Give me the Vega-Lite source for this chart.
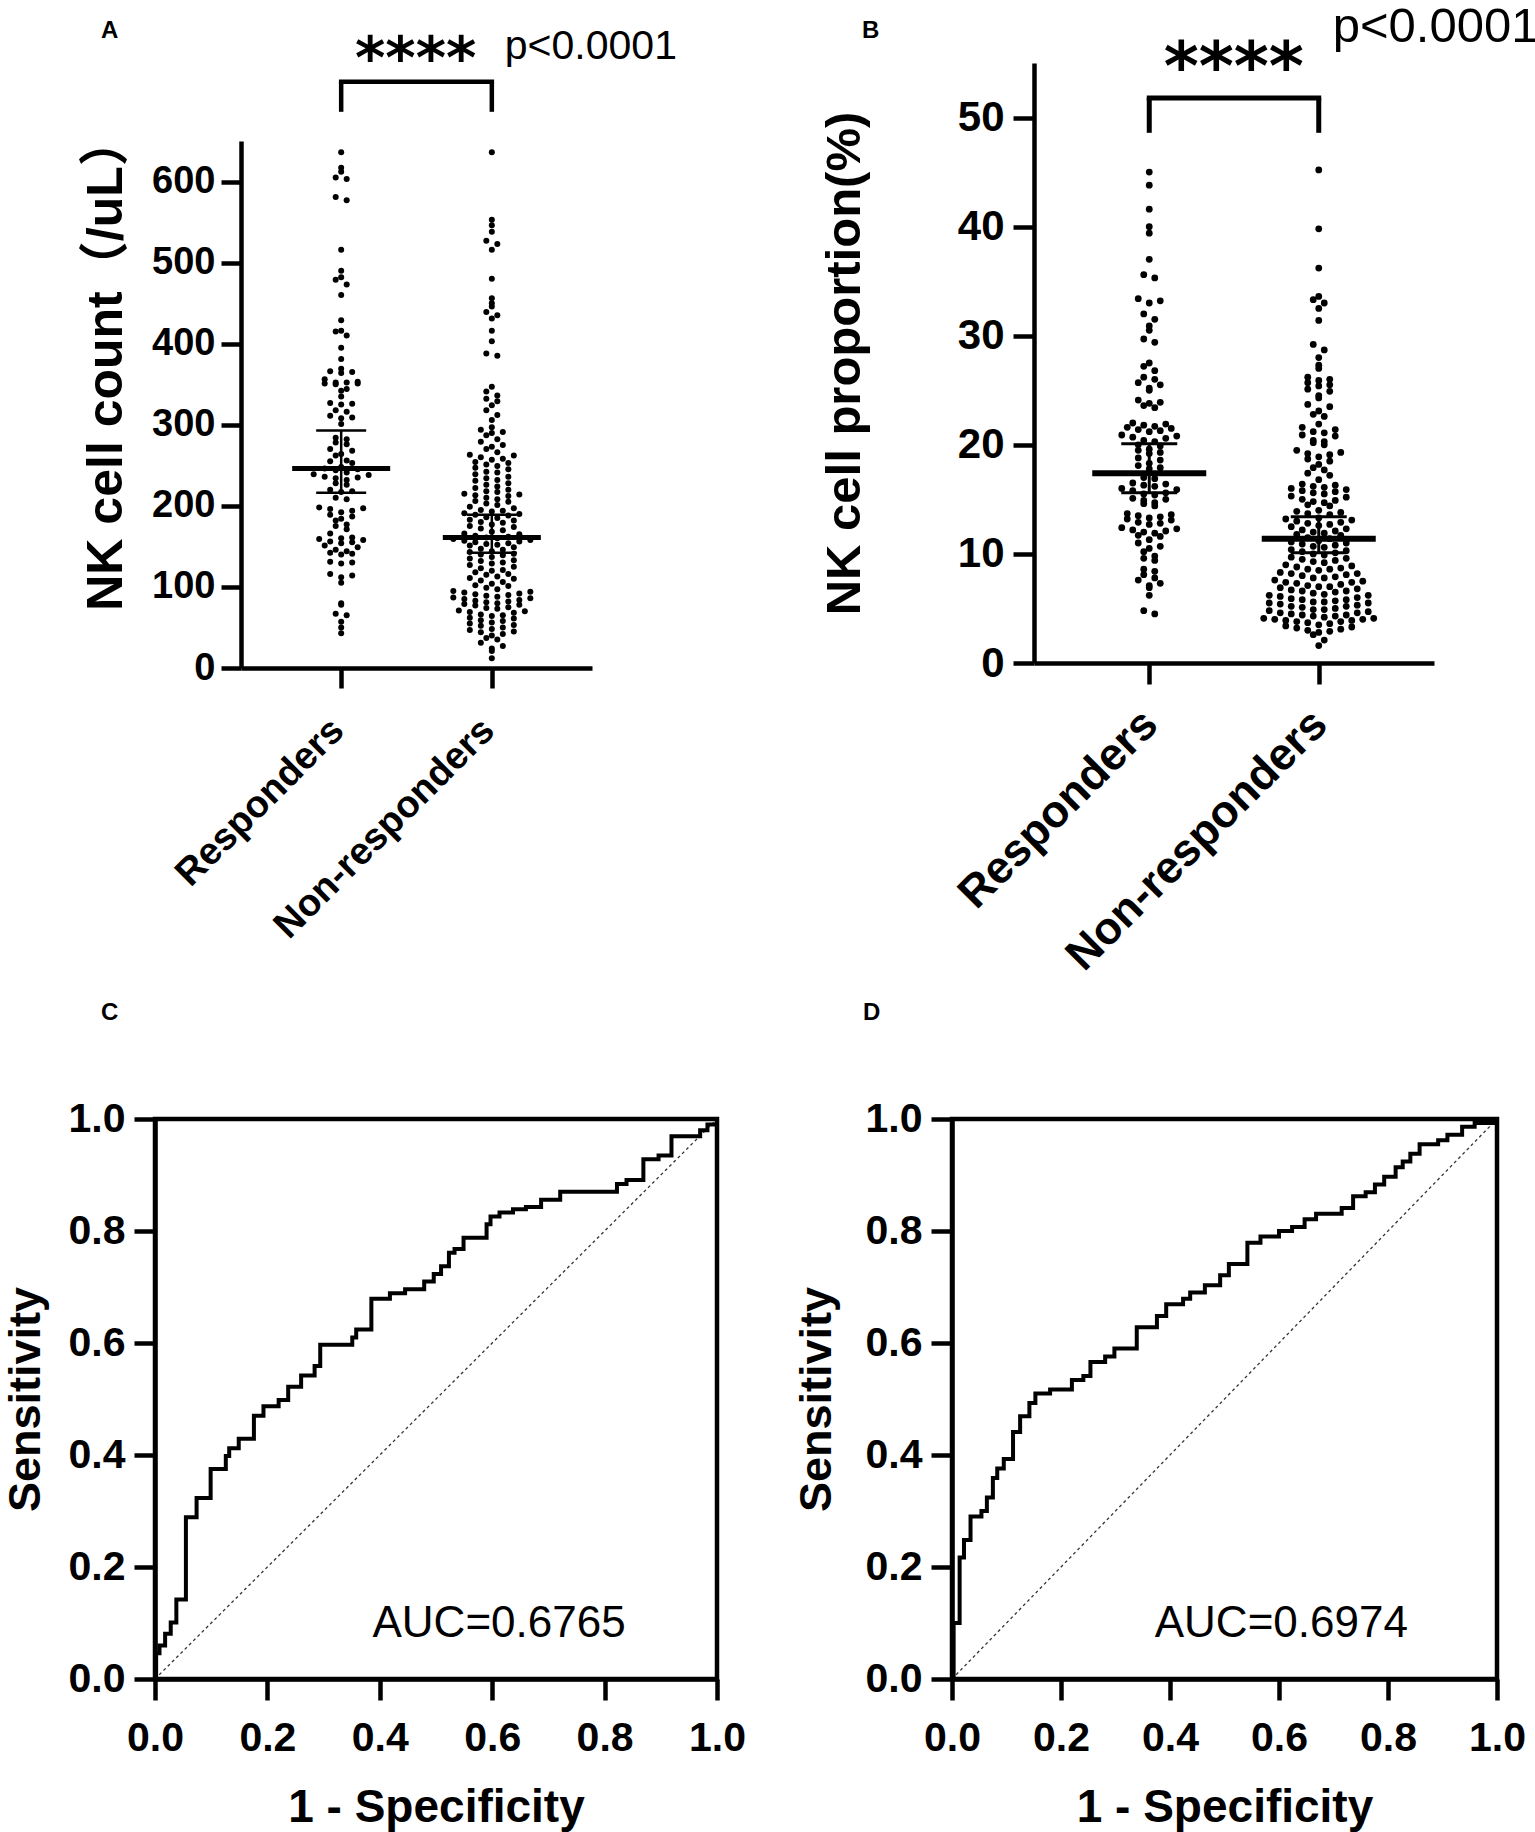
{
  "$schema": "https://vega.github.io/schema/vega-lite/v6.json",
  "background": "white",
  "padding": {"left": 0, "top": 3, "right": 0, "bottom": 0},
  "config": {
    "font": "Liberation Sans",
    "view": {"stroke": null},
    "axis": {
      "domainColor": "black", "tickColor": "black", "labelColor": "black", "titleColor": "black",
      "labelFont": "Liberation Sans", "titleFont": "Liberation Sans, Noto Sans CJK SC",
      "labelFontWeight": "bold", "titleFontWeight": "bold", "grid": false,
      "domainWidth": 4.5, "tickWidth": 4.5, "labelLimit": 1000, "titleLimit": 1000,
      "labelFlush": false, "labelOverlap": false
    },
    "title": {"anchor": "start", "frame": "group", "fontSize": 24, "fontWeight": "bold", "font": "Liberation Sans", "color": "black", "baseline": "alphabetic"},
    "concat": {"spacing": 0}
  },
  "datasets": {
    "countA": [
      {"group":"Responders","value":636},{"group":"Responders","value":617},{"group":"Responders","value":612},{"group":"Responders","value":605},{"group":"Responders","value":603},{"group":"Responders","value":581},{"group":"Responders","value":577},{"group":"Responders","value":516},{"group":"Responders","value":490},{"group":"Responders","value":482},
      {"group":"Responders","value":479},{"group":"Responders","value":473},{"group":"Responders","value":460},{"group":"Responders","value":429},{"group":"Responders","value":416},{"group":"Responders","value":415},{"group":"Responders","value":410},{"group":"Responders","value":395},{"group":"Responders","value":381},{"group":"Responders","value":369},
      {"group":"Responders","value":366},{"group":"Responders","value":365},{"group":"Responders","value":364},{"group":"Responders","value":356},{"group":"Responders","value":353},{"group":"Responders","value":352},{"group":"Responders","value":352},{"group":"Responders","value":351},{"group":"Responders","value":351},{"group":"Responders","value":350},
      {"group":"Responders","value":344},{"group":"Responders","value":342},{"group":"Responders","value":335},{"group":"Responders","value":327},{"group":"Responders","value":326},{"group":"Responders","value":325},{"group":"Responders","value":318},{"group":"Responders","value":316},{"group":"Responders","value":311},{"group":"Responders","value":309},
      {"group":"Responders","value":308},{"group":"Responders","value":301},{"group":"Responders","value":284},{"group":"Responders","value":282},{"group":"Responders","value":278},{"group":"Responders","value":276},{"group":"Responders","value":270},{"group":"Responders","value":268},{"group":"Responders","value":264},{"group":"Responders","value":262},
      {"group":"Responders","value":256},{"group":"Responders","value":255},{"group":"Responders","value":253},{"group":"Responders","value":248},{"group":"Responders","value":246},{"group":"Responders","value":245},{"group":"Responders","value":244},{"group":"Responders","value":241},{"group":"Responders","value":239},{"group":"Responders","value":238},
      {"group":"Responders","value":236},{"group":"Responders","value":235},{"group":"Responders","value":234},{"group":"Responders","value":232},{"group":"Responders","value":228},{"group":"Responders","value":226},{"group":"Responders","value":220},{"group":"Responders","value":218},{"group":"Responders","value":217},{"group":"Responders","value":210},
      {"group":"Responders","value":208},{"group":"Responders","value":198},{"group":"Responders","value":197},{"group":"Responders","value":196},{"group":"Responders","value":194},{"group":"Responders","value":192},{"group":"Responders","value":189},{"group":"Responders","value":187},{"group":"Responders","value":184},{"group":"Responders","value":182},
      {"group":"Responders","value":177},{"group":"Responders","value":175},{"group":"Responders","value":171},{"group":"Responders","value":166},{"group":"Responders","value":161},{"group":"Responders","value":160},{"group":"Responders","value":159},{"group":"Responders","value":158},{"group":"Responders","value":156},{"group":"Responders","value":155},
      {"group":"Responders","value":154},{"group":"Responders","value":151},{"group":"Responders","value":149},{"group":"Responders","value":146},{"group":"Responders","value":144},{"group":"Responders","value":142},{"group":"Responders","value":141},{"group":"Responders","value":140},{"group":"Responders","value":131},{"group":"Responders","value":130},
      {"group":"Responders","value":129},{"group":"Responders","value":116},{"group":"Responders","value":114},{"group":"Responders","value":112},{"group":"Responders","value":105},{"group":"Responders","value":80},{"group":"Responders","value":78},{"group":"Responders","value":67},{"group":"Responders","value":65},{"group":"Responders","value":57},
      {"group":"Responders","value":50},{"group":"Responders","value":43},
      {"group":"Non-responders","value":636},{"group":"Non-responders","value":553},{"group":"Non-responders","value":546},{"group":"Non-responders","value":538},{"group":"Non-responders","value":527},{"group":"Non-responders","value":523},{"group":"Non-responders","value":516},{"group":"Non-responders","value":480},{"group":"Non-responders","value":456},{"group":"Non-responders","value":450},
      {"group":"Non-responders","value":446},{"group":"Non-responders","value":439},{"group":"Non-responders","value":435},{"group":"Non-responders","value":431},{"group":"Non-responders","value":416},{"group":"Non-responders","value":403},{"group":"Non-responders","value":388},{"group":"Non-responders","value":385},
      {"group":"Non-responders","value":347},{"group":"Non-responders","value":341},{"group":"Non-responders","value":336},{"group":"Non-responders","value":332},{"group":"Non-responders","value":329},{"group":"Non-responders","value":324},{"group":"Non-responders","value":318},{"group":"Non-responders","value":312},{"group":"Non-responders","value":306},
      {"group":"Non-responders","value":297},{"group":"Non-responders","value":294},{"group":"Non-responders","value":291},{"group":"Non-responders","value":290},{"group":"Non-responders","value":287},{"group":"Non-responders","value":282},{"group":"Non-responders","value":279},{"group":"Non-responders","value":275},{"group":"Non-responders","value":273},{"group":"Non-responders","value":270},
      {"group":"Non-responders","value":266},{"group":"Non-responders","value":263},{"group":"Non-responders","value":262},{"group":"Non-responders","value":260},{"group":"Non-responders","value":258},{"group":"Non-responders","value":257},{"group":"Non-responders","value":254},{"group":"Non-responders","value":253},{"group":"Non-responders","value":251},{"group":"Non-responders","value":249},
      {"group":"Non-responders","value":247},{"group":"Non-responders","value":245},{"group":"Non-responders","value":242},{"group":"Non-responders","value":241},{"group":"Non-responders","value":239},{"group":"Non-responders","value":236},{"group":"Non-responders","value":234},{"group":"Non-responders","value":232},{"group":"Non-responders","value":231},{"group":"Non-responders","value":228},
      {"group":"Non-responders","value":226},{"group":"Non-responders","value":224},{"group":"Non-responders","value":222},{"group":"Non-responders","value":220},{"group":"Non-responders","value":218},{"group":"Non-responders","value":217},{"group":"Non-responders","value":215},{"group":"Non-responders","value":214},{"group":"Non-responders","value":213},{"group":"Non-responders","value":212},
      {"group":"Non-responders","value":210},{"group":"Non-responders","value":208},{"group":"Non-responders","value":206},{"group":"Non-responders","value":205},{"group":"Non-responders","value":203},{"group":"Non-responders","value":201},
      {"group":"Non-responders","value":199},{"group":"Non-responders","value":197},{"group":"Non-responders","value":195},{"group":"Non-responders","value":194},{"group":"Non-responders","value":193},{"group":"Non-responders","value":191},{"group":"Non-responders","value":190},{"group":"Non-responders","value":189},{"group":"Non-responders","value":188},{"group":"Non-responders","value":186},
      {"group":"Non-responders","value":185},{"group":"Non-responders","value":183},{"group":"Non-responders","value":182},{"group":"Non-responders","value":180},{"group":"Non-responders","value":179},{"group":"Non-responders","value":177},{"group":"Non-responders","value":175},{"group":"Non-responders","value":174},{"group":"Non-responders","value":172},{"group":"Non-responders","value":170},
      {"group":"Non-responders","value":168},{"group":"Non-responders","value":166},{"group":"Non-responders","value":165},{"group":"Non-responders","value":163},{"group":"Non-responders","value":162},{"group":"Non-responders","value":161},{"group":"Non-responders","value":160},{"group":"Non-responders","value":159},{"group":"Non-responders","value":158},{"group":"Non-responders","value":157},
      {"group":"Non-responders","value":156},{"group":"Non-responders","value":155},{"group":"Non-responders","value":154},{"group":"Non-responders","value":153},{"group":"Non-responders","value":152},{"group":"Non-responders","value":151},
      {"group":"Non-responders","value":149},{"group":"Non-responders","value":147},{"group":"Non-responders","value":146},{"group":"Non-responders","value":144},{"group":"Non-responders","value":143},{"group":"Non-responders","value":141},{"group":"Non-responders","value":140},{"group":"Non-responders","value":139},{"group":"Non-responders","value":137},{"group":"Non-responders","value":135},
      {"group":"Non-responders","value":133},{"group":"Non-responders","value":132},{"group":"Non-responders","value":130},{"group":"Non-responders","value":129},{"group":"Non-responders","value":127},{"group":"Non-responders","value":125},{"group":"Non-responders","value":123},{"group":"Non-responders","value":121},{"group":"Non-responders","value":120},{"group":"Non-responders","value":118},
      {"group":"Non-responders","value":116},{"group":"Non-responders","value":115},{"group":"Non-responders","value":113},{"group":"Non-responders","value":111},{"group":"Non-responders","value":110},{"group":"Non-responders","value":108},{"group":"Non-responders","value":106},{"group":"Non-responders","value":104},{"group":"Non-responders","value":102},{"group":"Non-responders","value":101},
      {"group":"Non-responders","value":99},{"group":"Non-responders","value":97},{"group":"Non-responders","value":95},{"group":"Non-responders","value":94},{"group":"Non-responders","value":93},{"group":"Non-responders","value":92},{"group":"Non-responders","value":91},{"group":"Non-responders","value":90},{"group":"Non-responders","value":89},{"group":"Non-responders","value":88},
      {"group":"Non-responders","value":87},{"group":"Non-responders","value":86},{"group":"Non-responders","value":85},{"group":"Non-responders","value":84},{"group":"Non-responders","value":83},{"group":"Non-responders","value":82},{"group":"Non-responders","value":81},{"group":"Non-responders","value":80},{"group":"Non-responders","value":79},{"group":"Non-responders","value":78},
      {"group":"Non-responders","value":77},{"group":"Non-responders","value":75},{"group":"Non-responders","value":74},{"group":"Non-responders","value":73},{"group":"Non-responders","value":71},{"group":"Non-responders","value":70},{"group":"Non-responders","value":69},{"group":"Non-responders","value":68},{"group":"Non-responders","value":66},{"group":"Non-responders","value":65},
      {"group":"Non-responders","value":64},{"group":"Non-responders","value":62},{"group":"Non-responders","value":61},{"group":"Non-responders","value":59},{"group":"Non-responders","value":58},{"group":"Non-responders","value":56},{"group":"Non-responders","value":55},{"group":"Non-responders","value":53},{"group":"Non-responders","value":52},{"group":"Non-responders","value":50},
      {"group":"Non-responders","value":48},{"group":"Non-responders","value":47},{"group":"Non-responders","value":45},{"group":"Non-responders","value":44},{"group":"Non-responders","value":42},{"group":"Non-responders","value":40},{"group":"Non-responders","value":37},{"group":"Non-responders","value":35},{"group":"Non-responders","value":31},{"group":"Non-responders","value":27},
      {"group":"Non-responders","value":24},{"group":"Non-responders","value":21},{"group":"Non-responders","value":12}
    ],
    "propB": [
      {"group":"Responders","value":45.0},{"group":"Responders","value":43.8},{"group":"Responders","value":41.6},{"group":"Responders","value":40.0},{"group":"Responders","value":39.4},{"group":"Responders","value":37.0},{"group":"Responders","value":35.6},{"group":"Responders","value":35.3},{"group":"Responders","value":33.4},{"group":"Responders","value":33.2},
      {"group":"Responders","value":33.0},{"group":"Responders","value":32.0},{"group":"Responders","value":31.5},{"group":"Responders","value":30.9},{"group":"Responders","value":30.5},{"group":"Responders","value":29.7},{"group":"Responders","value":29.4},{"group":"Responders","value":27.5},{"group":"Responders","value":27.2},{"group":"Responders","value":26.8},
      {"group":"Responders","value":26.2},{"group":"Responders","value":26.0},{"group":"Responders","value":25.7},{"group":"Responders","value":25.5},{"group":"Responders","value":25.2},{"group":"Responders","value":25.0},{"group":"Responders","value":24.1},{"group":"Responders","value":23.9},{"group":"Responders","value":23.8},{"group":"Responders","value":23.6},
      {"group":"Responders","value":23.4},{"group":"Responders","value":22.0},{"group":"Responders","value":21.9},{"group":"Responders","value":21.8},{"group":"Responders","value":21.7},{"group":"Responders","value":21.6},{"group":"Responders","value":21.5},{"group":"Responders","value":21.4},{"group":"Responders","value":21.3},{"group":"Responders","value":21.2},
      {"group":"Responders","value":20.9},{"group":"Responders","value":20.8},{"group":"Responders","value":20.7},{"group":"Responders","value":20.6},{"group":"Responders","value":20.4},{"group":"Responders","value":20.3},{"group":"Responders","value":20.0},{"group":"Responders","value":19.9},{"group":"Responders","value":19.6},{"group":"Responders","value":19.5},
      {"group":"Responders","value":19.3},{"group":"Responders","value":19.2},{"group":"Responders","value":18.8},{"group":"Responders","value":18.6},{"group":"Responders","value":18.3},{"group":"Responders","value":18.1},{"group":"Responders","value":17.9},{"group":"Responders","value":17.8},{"group":"Responders","value":17.0},{"group":"Responders","value":16.9},
      {"group":"Responders","value":16.5},{"group":"Responders","value":16.4},{"group":"Responders","value":16.3},{"group":"Responders","value":16.2},{"group":"Responders","value":16.0},{"group":"Responders","value":15.9},{"group":"Responders","value":15.8},{"group":"Responders","value":15.6},{"group":"Responders","value":15.5},{"group":"Responders","value":15.4},
      {"group":"Responders","value":15.1},{"group":"Responders","value":15.0},{"group":"Responders","value":14.9},{"group":"Responders","value":14.7},{"group":"Responders","value":14.6},{"group":"Responders","value":14.4},{"group":"Responders","value":13.7},{"group":"Responders","value":13.6},{"group":"Responders","value":13.5},{"group":"Responders","value":13.4},
      {"group":"Responders","value":13.3},{"group":"Responders","value":13.2},{"group":"Responders","value":13.1},{"group":"Responders","value":12.9},{"group":"Responders","value":12.8},{"group":"Responders","value":12.7},{"group":"Responders","value":12.4},{"group":"Responders","value":12.3},{"group":"Responders","value":12.2},{"group":"Responders","value":12.1},
      {"group":"Responders","value":12.0},{"group":"Responders","value":11.9},{"group":"Responders","value":11.7},{"group":"Responders","value":11.6},{"group":"Responders","value":11.3},{"group":"Responders","value":11.0},{"group":"Responders","value":10.7},{"group":"Responders","value":10.5},{"group":"Responders","value":10.2},{"group":"Responders","value":9.8},
      {"group":"Responders","value":9.6},{"group":"Responders","value":9.4},{"group":"Responders","value":8.6},{"group":"Responders","value":8.4},{"group":"Responders","value":8.1},{"group":"Responders","value":7.8},{"group":"Responders","value":7.6},{"group":"Responders","value":7.3},{"group":"Responders","value":7.1},{"group":"Responders","value":6.9},
      {"group":"Responders","value":6.2},{"group":"Responders","value":4.8},{"group":"Responders","value":4.5},
      {"group":"Non-responders","value":45.2},{"group":"Non-responders","value":39.8},{"group":"Non-responders","value":36.2},{"group":"Non-responders","value":33.6},{"group":"Non-responders","value":33.3},{"group":"Non-responders","value":33.0},{"group":"Non-responders","value":32.5},{"group":"Non-responders","value":31.4},{"group":"Non-responders","value":29.2},{"group":"Non-responders","value":28.7},
      {"group":"Non-responders","value":28.0},{"group":"Non-responders","value":27.3},{"group":"Non-responders","value":27.0},{"group":"Non-responders","value":26.2},{"group":"Non-responders","value":26.0},{"group":"Non-responders","value":25.9},{"group":"Non-responders","value":25.7},{"group":"Non-responders","value":25.5},{"group":"Non-responders","value":25.4},{"group":"Non-responders","value":25.1},
      {"group":"Non-responders","value":24.9},{"group":"Non-responders","value":24.5},{"group":"Non-responders","value":24.3},{"group":"Non-responders","value":23.7},{"group":"Non-responders","value":23.5},{"group":"Non-responders","value":23.1},{"group":"Non-responders","value":22.8},{"group":"Non-responders","value":22.6},{"group":"Non-responders","value":21.9},{"group":"Non-responders","value":21.6},
      {"group":"Non-responders","value":21.4},{"group":"Non-responders","value":21.2},{"group":"Non-responders","value":21.1},{"group":"Non-responders","value":20.9},{"group":"Non-responders","value":20.8},{"group":"Non-responders","value":20.4},{"group":"Non-responders","value":20.3},{"group":"Non-responders","value":20.2},{"group":"Non-responders","value":20.0},{"group":"Non-responders","value":19.5},
      {"group":"Non-responders","value":19.3},{"group":"Non-responders","value":19.2},{"group":"Non-responders","value":19.1},{"group":"Non-responders","value":18.9},{"group":"Non-responders","value":18.7},{"group":"Non-responders","value":18.5},{"group":"Non-responders","value":18.2},{"group":"Non-responders","value":17.9},{"group":"Non-responders","value":17.7},{"group":"Non-responders","value":17.4},
      {"group":"Non-responders","value":17.2},{"group":"Non-responders","value":16.8},{"group":"Non-responders","value":16.4},{"group":"Non-responders","value":16.3},{"group":"Non-responders","value":16.2},{"group":"Non-responders","value":16.1},{"group":"Non-responders","value":16.0},{"group":"Non-responders","value":15.9},{"group":"Non-responders","value":15.8},{"group":"Non-responders","value":15.7},
      {"group":"Non-responders","value":15.6},{"group":"Non-responders","value":15.5},{"group":"Non-responders","value":15.3},{"group":"Non-responders","value":15.2},{"group":"Non-responders","value":15.0},{"group":"Non-responders","value":14.9},{"group":"Non-responders","value":14.8},{"group":"Non-responders","value":14.7},{"group":"Non-responders","value":14.5},{"group":"Non-responders","value":14.4},
      {"group":"Non-responders","value":14.0},{"group":"Non-responders","value":13.9},{"group":"Non-responders","value":13.8},{"group":"Non-responders","value":13.7},{"group":"Non-responders","value":13.6},{"group":"Non-responders","value":13.3},{"group":"Non-responders","value":13.2},{"group":"Non-responders","value":13.1},{"group":"Non-responders","value":13.0},{"group":"Non-responders","value":12.9},
      {"group":"Non-responders","value":12.8},{"group":"Non-responders","value":12.7},{"group":"Non-responders","value":12.6},{"group":"Non-responders","value":12.5},{"group":"Non-responders","value":12.3},{"group":"Non-responders","value":12.2},{"group":"Non-responders","value":12.1},{"group":"Non-responders","value":12.0},{"group":"Non-responders","value":11.9},{"group":"Non-responders","value":11.8},
      {"group":"Non-responders","value":11.7},{"group":"Non-responders","value":11.5},{"group":"Non-responders","value":11.4},{"group":"Non-responders","value":11.2},{"group":"Non-responders","value":11.1},{"group":"Non-responders","value":11.0},{"group":"Non-responders","value":10.9},{"group":"Non-responders","value":10.8},{"group":"Non-responders","value":10.7},{"group":"Non-responders","value":10.6},
      {"group":"Non-responders","value":10.4},{"group":"Non-responders","value":10.3},{"group":"Non-responders","value":10.2},{"group":"Non-responders","value":10.1},{"group":"Non-responders","value":10.0},{"group":"Non-responders","value":9.9},{"group":"Non-responders","value":9.7},{"group":"Non-responders","value":9.6},{"group":"Non-responders","value":9.5},{"group":"Non-responders","value":9.4},
      {"group":"Non-responders","value":9.3},{"group":"Non-responders","value":9.2},{"group":"Non-responders","value":9.0},{"group":"Non-responders","value":8.9},{"group":"Non-responders","value":8.8},{"group":"Non-responders","value":8.7},{"group":"Non-responders","value":8.6},{"group":"Non-responders","value":8.6},{"group":"Non-responders","value":8.5},{"group":"Non-responders","value":8.3},
      {"group":"Non-responders","value":8.2},{"group":"Non-responders","value":8.2},{"group":"Non-responders","value":8.1},{"group":"Non-responders","value":8.0},{"group":"Non-responders","value":7.9},{"group":"Non-responders","value":7.8},{"group":"Non-responders","value":7.8},{"group":"Non-responders","value":7.6},{"group":"Non-responders","value":7.5},{"group":"Non-responders","value":7.4},
      {"group":"Non-responders","value":7.4},{"group":"Non-responders","value":7.3},{"group":"Non-responders","value":7.2},{"group":"Non-responders","value":7.1},{"group":"Non-responders","value":7.0},{"group":"Non-responders","value":7.0},{"group":"Non-responders","value":6.9},{"group":"Non-responders","value":6.8},{"group":"Non-responders","value":6.7},{"group":"Non-responders","value":6.6},
      {"group":"Non-responders","value":6.6},{"group":"Non-responders","value":6.5},{"group":"Non-responders","value":6.4},{"group":"Non-responders","value":6.3},{"group":"Non-responders","value":6.2},{"group":"Non-responders","value":6.2},{"group":"Non-responders","value":6.1},{"group":"Non-responders","value":6.0},{"group":"Non-responders","value":5.9},{"group":"Non-responders","value":5.8},
      {"group":"Non-responders","value":5.8},{"group":"Non-responders","value":5.7},{"group":"Non-responders","value":5.6},{"group":"Non-responders","value":5.6},{"group":"Non-responders","value":5.5},{"group":"Non-responders","value":5.5},{"group":"Non-responders","value":5.4},{"group":"Non-responders","value":5.3},{"group":"Non-responders","value":5.2},{"group":"Non-responders","value":5.2},
      {"group":"Non-responders","value":5.1},{"group":"Non-responders","value":5.0},{"group":"Non-responders","value":4.9},{"group":"Non-responders","value":4.9},{"group":"Non-responders","value":4.8},{"group":"Non-responders","value":4.7},{"group":"Non-responders","value":4.6},{"group":"Non-responders","value":4.6},{"group":"Non-responders","value":4.5},{"group":"Non-responders","value":4.4},
      {"group":"Non-responders","value":4.4},{"group":"Non-responders","value":4.3},{"group":"Non-responders","value":4.3},{"group":"Non-responders","value":4.2},{"group":"Non-responders","value":4.1},{"group":"Non-responders","value":4.1},{"group":"Non-responders","value":4.0},{"group":"Non-responders","value":4.0},{"group":"Non-responders","value":3.9},{"group":"Non-responders","value":3.9},
      {"group":"Non-responders","value":3.8},{"group":"Non-responders","value":3.8},{"group":"Non-responders","value":3.7},{"group":"Non-responders","value":3.6},{"group":"Non-responders","value":3.5},{"group":"Non-responders","value":3.4},{"group":"Non-responders","value":3.3},{"group":"Non-responders","value":3.2},{"group":"Non-responders","value":3.1},{"group":"Non-responders","value":3.0},
      {"group":"Non-responders","value":2.9},{"group":"Non-responders","value":2.8},{"group":"Non-responders","value":2.6},{"group":"Non-responders","value":2.1},{"group":"Non-responders","value":1.6}
    ],
    "rocC": [
      {"fpr":0,"tpr":0},{"fpr":0.002,"tpr":0.046},{"fpr":0.008,"tpr":0.060},{"fpr":0.018,"tpr":0.081},{"fpr":0.028,"tpr":0.101},{"fpr":0.038,"tpr":0.142},{"fpr":0.055,"tpr":0.289},{"fpr":0.074,"tpr":0.323},{"fpr":0.099,"tpr":0.375},{"fpr":0.126,"tpr":0.398},
      {"fpr":0.132,"tpr":0.412},{"fpr":0.149,"tpr":0.429},{"fpr":0.176,"tpr":0.470},{"fpr":0.193,"tpr":0.487},{"fpr":0.220,"tpr":0.498},{"fpr":0.237,"tpr":0.522},{"fpr":0.260,"tpr":0.542},{"fpr":0.284,"tpr":0.559},{"fpr":0.294,"tpr":0.597},{"fpr":0.351,"tpr":0.610},
      {"fpr":0.358,"tpr":0.624},{"fpr":0.385,"tpr":0.679},{"fpr":0.418,"tpr":0.689},{"fpr":0.445,"tpr":0.696},{"fpr":0.479,"tpr":0.710},{"fpr":0.496,"tpr":0.723},{"fpr":0.509,"tpr":0.737},{"fpr":0.523,"tpr":0.761},{"fpr":0.533,"tpr":0.768},{"fpr":0.549,"tpr":0.788},
      {"fpr":0.590,"tpr":0.812},{"fpr":0.597,"tpr":0.826},{"fpr":0.613,"tpr":0.833},{"fpr":0.637,"tpr":0.839},{"fpr":0.660,"tpr":0.843},{"fpr":0.687,"tpr":0.856},{"fpr":0.721,"tpr":0.870},{"fpr":0.822,"tpr":0.884},{"fpr":0.839,"tpr":0.891},{"fpr":0.869,"tpr":0.928},
      {"fpr":0.896,"tpr":0.935},{"fpr":0.919,"tpr":0.969},{"fpr":0.970,"tpr":0.980},{"fpr":0.983,"tpr":0.990},{"fpr":1.0,"tpr":1.0}
    ],
    "rocD": [
      {"fpr":0,"tpr":0},{"fpr":0.003,"tpr":0.100},{"fpr":0.014,"tpr":0.217},{"fpr":0.022,"tpr":0.248},{"fpr":0.034,"tpr":0.290},{"fpr":0.054,"tpr":0.300},{"fpr":0.064,"tpr":0.324},{"fpr":0.075,"tpr":0.359},{"fpr":0.083,"tpr":0.376},{"fpr":0.095,"tpr":0.393},
      {"fpr":0.112,"tpr":0.441},{"fpr":0.125,"tpr":0.469},{"fpr":0.142,"tpr":0.493},{"fpr":0.153,"tpr":0.510},{"fpr":0.180,"tpr":0.517},{"fpr":0.220,"tpr":0.534},{"fpr":0.241,"tpr":0.541},{"fpr":0.254,"tpr":0.566},{"fpr":0.281,"tpr":0.576},{"fpr":0.298,"tpr":0.590},
      {"fpr":0.339,"tpr":0.628},{"fpr":0.376,"tpr":0.648},{"fpr":0.393,"tpr":0.669},{"fpr":0.424,"tpr":0.679},{"fpr":0.437,"tpr":0.690},{"fpr":0.464,"tpr":0.703},{"fpr":0.492,"tpr":0.721},{"fpr":0.508,"tpr":0.741},{"fpr":0.542,"tpr":0.779},{"fpr":0.566,"tpr":0.790},
      {"fpr":0.600,"tpr":0.800},{"fpr":0.624,"tpr":0.807},{"fpr":0.647,"tpr":0.821},{"fpr":0.668,"tpr":0.831},{"fpr":0.715,"tpr":0.841},{"fpr":0.736,"tpr":0.862},{"fpr":0.759,"tpr":0.869},{"fpr":0.776,"tpr":0.883},{"fpr":0.793,"tpr":0.897},{"fpr":0.814,"tpr":0.914},
      {"fpr":0.827,"tpr":0.924},{"fpr":0.841,"tpr":0.938},{"fpr":0.858,"tpr":0.955},{"fpr":0.892,"tpr":0.962},{"fpr":0.909,"tpr":0.972},{"fpr":0.936,"tpr":0.986},{"fpr":0.959,"tpr":0.993},{"fpr":1.0,"tpr":1.0}
    ],
    "chance": [{"fpr":0,"tpr":0},{"fpr":1,"tpr":1}]
  },
  "bounds": "flush",
  "spacing": 1056,
  "vconcat": [
    {
      "bounds": "flush",
      "spacing": 0,
      "hconcat": [
        {"width": 86, "height": 1, "data": {"values": [{}]}, "mark": {"type": "point", "opacity": 0}, "encoding": {}},
        {
          "bounds": "flush",
          "spacing": 442,
          "hconcat": [
            {
              "width": 351,
              "height": 605,
              "title": {"text": "A", "dx": -140, "offset": -17},
              "layer": [
                {
                  "data": {"name": "countA"},
                  "transform": [
                    {"bin": {"step": 8, "extent": [0, 704]}, "field": "value", "as": "row"},
                    {"joinaggregate": [{"op": "count", "as": "n"}], "groupby": ["group", "row"]},
                    {"window": [{"op": "row_number", "as": "k"}], "groupby": ["group", "row"], "sort": [{"field": "value"}]},
                    {"calculate": "datum.n % 2 == 1 ? (datum.k % 2 == 0 ? 1 : -1) * floor(datum.k / 2) : (datum.k % 2 == 1 ? 1 : -1) * (floor((datum.k - 1) / 2) + 0.5)", "as": "slot"}
                  ],
                  "mark": {"type": "circle", "size": 36, "color": "black", "opacity": 1},
                  "encoding": {
                    "x": {
                      "field": "group", "type": "nominal",
                      "scale": {"type": "point", "domain": ["Responders", "Non-responders"], "padding": 0.665},
                      "axis": {"title": null, "labelAngle": -45, "labelAlign": "right", "labelBaseline": "top", "labelFontSize": 38, "labelPadding": 23, "labelOffset": -17, "tickSize": 20}
                    },
                    "xOffset": {"field": "slot", "type": "quantitative", "scale": {"domain": [-1, 1], "range": [-11, 11]}},
                    "y": {
                      "field": "value", "type": "quantitative",
                      "scale": {"domain": [0, 650], "range": [605, 78], "nice": false},
                      "axis": {"values": [0, 100, 200, 300, 400, 500, 600], "title": "NK cell count（/uL）", "titleFontSize": 50, "titleY": 300, "labelFontSize": 38, "tickSize": 20, "labelPadding": 6, "titlePadding": 20}
                    }
                  }
                },
                {
                  "data": {"values": [{"group": "Responders", "mid": 246, "lo": 216, "hi": 293}, {"group": "Non-responders", "mid": 161, "lo": 142, "hi": 189}]},
                  "layer": [
                    {"mark": {"type": "tick", "size": 98, "thickness": 5, "color": "black", "opacity": 1}, "encoding": {"x": {"field": "group", "type": "nominal"}, "y": {"field": "mid", "type": "quantitative"}}},
                    {"mark": {"type": "rule", "strokeWidth": 2.5, "color": "black"}, "encoding": {"x": {"field": "group", "type": "nominal"}, "y": {"field": "lo", "type": "quantitative"}, "y2": {"field": "hi"}}},
                    {
                      "transform": [{"fold": ["lo", "hi"], "as": ["end", "bar"]}],
                      "mark": {"type": "tick", "size": 50, "thickness": 2.5, "color": "black", "opacity": 1},
                      "encoding": {"x": {"field": "group", "type": "nominal"}, "y": {"field": "bar", "type": "quantitative"}}
                    }
                  ]
                },
                {
                  "data": {"values": [{"from": "Responders", "to": "Non-responders", "top": 723, "foot": 686}]},
                  "layer": [
                    {"mark": {"type": "rule", "strokeWidth": 4.5, "color": "black", "strokeCap": "square"}, "encoding": {"x": {"field": "from", "type": "nominal"}, "x2": {"field": "to"}, "y": {"field": "top", "type": "quantitative"}}},
                    {
                      "transform": [{"fold": ["from", "to"], "as": ["side", "cat"]}],
                      "mark": {"type": "rule", "strokeWidth": 4.5, "color": "black"},
                      "encoding": {"x": {"field": "cat", "type": "nominal"}, "y": {"field": "top", "type": "quantitative"}, "y2": {"field": "foot"}}
                    }
                  ]
                },
                {
                  "data": {"values": [{"cat": "Responders", "y": 728, "label": "****"}]},
                  "mark": {"type": "text", "font": "DejaVu Sans", "fontWeight": "bold", "fontSize": 58, "align": "center", "baseline": "alphabetic", "dx": 74.5, "color": "black"},
                  "encoding": {"x": {"field": "cat", "type": "nominal"}, "y": {"field": "y", "type": "quantitative"}, "text": {"field": "label"}}
                },
                {
                  "data": {"values": [{"cat": "Non-responders", "y": 751, "label": "p<0.0001"}]},
                  "mark": {"type": "text", "font": "Liberation Sans", "fontSize": 41, "align": "left", "baseline": "alphabetic", "dx": 13, "color": "black"},
                  "encoding": {"x": {"field": "cat", "type": "nominal"}, "y": {"field": "y", "type": "quantitative"}, "text": {"field": "label"}}
                }
              ]
            },
            {
              "width": 400,
              "height": 600,
              "title": {"text": "B", "dx": -172, "offset": -40},
              "layer": [
                {
                  "data": {"name": "propB"},
                  "transform": [
                    {"bin": {"step": 0.7, "extent": [0, 56]}, "field": "value", "as": "row"},
                    {"joinaggregate": [{"op": "count", "as": "n"}], "groupby": ["group", "row"]},
                    {"window": [{"op": "row_number", "as": "k"}], "groupby": ["group", "row"], "sort": [{"field": "value"}]},
                    {"calculate": "datum.n % 2 == 1 ? (datum.k % 2 == 0 ? 1 : -1) * floor(datum.k / 2) : (datum.k % 2 == 1 ? 1 : -1) * (floor((datum.k - 1) / 2) + 0.5)", "as": "slot"}
                  ],
                  "mark": {"type": "circle", "size": 46, "color": "black", "opacity": 1},
                  "encoding": {
                    "x": {
                      "field": "group", "type": "nominal",
                      "scale": {"type": "point", "domain": ["Responders", "Non-responders"], "padding": 0.68},
                      "axis": {"title": null, "labelAngle": -45, "labelAlign": "right", "labelBaseline": "top", "labelFontSize": 45, "labelPadding": 17, "labelOffset": -15, "tickSize": 21}
                    },
                    "xOffset": {"field": "slot", "type": "quantitative", "scale": {"domain": [-1, 1], "range": [-12, 12]}},
                    "y": {
                      "field": "value", "type": "quantitative",
                      "scale": {"domain": [0, 55], "nice": false},
                      "axis": {"values": [0, 10, 20, 30, 40, 50], "title": "NK cell proportion(%)", "titleFontSize": 49, "labelFontSize": 42, "tickSize": 21, "labelPadding": 9, "titlePadding": 88}
                    }
                  }
                },
                {
                  "data": {"values": [{"group": "Responders", "mid": 17.4, "lo": 15.6, "hi": 20.1}, {"group": "Non-responders", "mid": 11.4, "lo": 10.1, "hi": 13.4}]},
                  "layer": [
                    {"mark": {"type": "tick", "size": 114, "thickness": 6, "color": "black", "opacity": 1}, "encoding": {"x": {"field": "group", "type": "nominal"}, "y": {"field": "mid", "type": "quantitative"}}},
                    {"mark": {"type": "rule", "strokeWidth": 3, "color": "black"}, "encoding": {"x": {"field": "group", "type": "nominal"}, "y": {"field": "lo", "type": "quantitative"}, "y2": {"field": "hi"}}},
                    {
                      "transform": [{"fold": ["lo", "hi"], "as": ["end", "bar"]}],
                      "mark": {"type": "tick", "size": 56, "thickness": 3, "color": "black", "opacity": 1},
                      "encoding": {"x": {"field": "group", "type": "nominal"}, "y": {"field": "bar", "type": "quantitative"}}
                    }
                  ]
                },
                {
                  "data": {"values": [{"from": "Responders", "to": "Non-responders", "top": 51.8, "foot": 48.6}]},
                  "layer": [
                    {"mark": {"type": "rule", "strokeWidth": 5, "color": "black", "strokeCap": "square"}, "encoding": {"x": {"field": "from", "type": "nominal"}, "x2": {"field": "to"}, "y": {"field": "top", "type": "quantitative"}}},
                    {
                      "transform": [{"fold": ["from", "to"], "as": ["side", "cat"]}],
                      "mark": {"type": "rule", "strokeWidth": 5, "color": "black"},
                      "encoding": {"x": {"field": "cat", "type": "nominal"}, "y": {"field": "top", "type": "quantitative"}, "y2": {"field": "foot"}}
                    }
                  ]
                },
                {
                  "data": {"values": [{"cat": "Responders", "y": 52.5, "label": "****"}]},
                  "mark": {"type": "text", "font": "DejaVu Sans", "fontWeight": "bold", "fontSize": 67, "align": "center", "baseline": "alphabetic", "dx": 84.5, "color": "black"},
                  "encoding": {"x": {"field": "cat", "type": "nominal"}, "y": {"field": "y", "type": "quantitative"}, "text": {"field": "label"}}
                },
                {
                  "data": {"values": [{"cat": "Non-responders", "y": 56.9, "label": "p<0.0001"}]},
                  "mark": {"type": "text", "font": "Liberation Sans", "fontSize": 49, "align": "left", "baseline": "alphabetic", "dx": 14, "color": "black"},
                  "encoding": {"x": {"field": "cat", "type": "nominal"}, "y": {"field": "y", "type": "quantitative"}, "text": {"field": "label"}}
                }
              ]
            }
          ]
        }
      ]
    },
    {
      "bounds": "flush",
      "spacing": 235,
      "hconcat": [
        {
          "width": 562,
          "height": 560,
          "title": {"text": "C", "dx": -54, "offset": 73},
          "view": {"stroke": "black", "strokeWidth": 4.5},
          "layer": [
            {
              "data": {"name": "chance"},
              "mark": {"type": "line", "color": "#333333", "strokeWidth": 1.3, "strokeDash": [3, 3]},
              "encoding": {
                "x": {
                  "field": "fpr", "type": "quantitative", "scale": {"domain": [0, 1], "nice": false},
                  "axis": {"values": [0, 0.2, 0.4, 0.6, 0.8, 1], "format": ".1f", "title": "1 - Specificity", "titleFontSize": 46, "labelFontSize": 41, "tickSize": 21, "labelPadding": 18, "titlePadding": 27}
                },
                "y": {
                  "field": "tpr", "type": "quantitative", "scale": {"domain": [0, 1], "nice": false},
                  "axis": {"values": [0, 0.2, 0.4, 0.6, 0.8, 1], "format": ".1f", "title": "Sensitivity", "titleFontSize": 45, "labelFontSize": 41, "tickSize": 21, "labelPadding": 9, "titlePadding": 20}
                }
              }
            },
            {
              "data": {"name": "rocC"},
              "mark": {"type": "line", "interpolate": "step-after", "color": "black", "strokeWidth": 4},
              "encoding": {"x": {"field": "fpr", "type": "quantitative"}, "y": {"field": "tpr", "type": "quantitative"}}
            },
            {
              "data": {"values": [{"fpr": 0.387, "tpr": 0.075, "label": "AUC=0.6765"}]},
              "mark": {"type": "text", "font": "Liberation Sans", "fontSize": 44, "align": "left", "baseline": "alphabetic", "color": "black"},
              "encoding": {"x": {"field": "fpr", "type": "quantitative"}, "y": {"field": "tpr", "type": "quantitative"}, "text": {"field": "label"}}
            }
          ]
        },
        {
          "width": 545,
          "height": 560,
          "title": {"text": "D", "dx": -89, "offset": 73},
          "view": {"stroke": "black", "strokeWidth": 4.5},
          "layer": [
            {
              "data": {"name": "chance"},
              "mark": {"type": "line", "color": "#333333", "strokeWidth": 1.3, "strokeDash": [3, 3]},
              "encoding": {
                "x": {
                  "field": "fpr", "type": "quantitative", "scale": {"domain": [0, 1], "nice": false},
                  "axis": {"values": [0, 0.2, 0.4, 0.6, 0.8, 1], "format": ".1f", "title": "1 - Specificity", "titleFontSize": 46, "labelFontSize": 41, "tickSize": 21, "labelPadding": 18, "titlePadding": 27}
                },
                "y": {
                  "field": "tpr", "type": "quantitative", "scale": {"domain": [0, 1], "nice": false},
                  "axis": {"values": [0, 0.2, 0.4, 0.6, 0.8, 1], "format": ".1f", "title": "Sensitivity", "titleFontSize": 45, "labelFontSize": 41, "tickSize": 21, "labelPadding": 9, "titlePadding": 26}
                }
              }
            },
            {
              "data": {"name": "rocD"},
              "mark": {"type": "line", "interpolate": "step-after", "color": "black", "strokeWidth": 4},
              "encoding": {"x": {"field": "fpr", "type": "quantitative"}, "y": {"field": "tpr", "type": "quantitative"}}
            },
            {
              "data": {"values": [{"fpr": 0.372, "tpr": 0.075, "label": "AUC=0.6974"}]},
              "mark": {"type": "text", "font": "Liberation Sans", "fontSize": 44, "align": "left", "baseline": "alphabetic", "color": "black"},
              "encoding": {"x": {"field": "fpr", "type": "quantitative"}, "y": {"field": "tpr", "type": "quantitative"}, "text": {"field": "label"}}
            }
          ]
        }
      ]
    }
  ]
}
